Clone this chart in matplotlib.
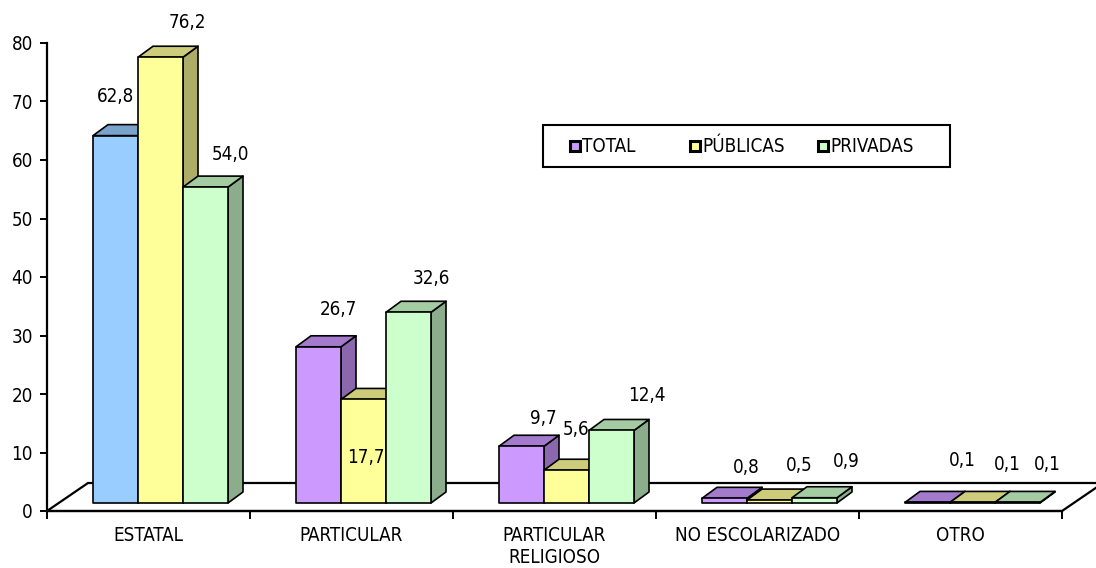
"""Faux-3D clustered bar chart: tipo de establecimiento por dependencia."""

import matplotlib
matplotlib.use("Agg")
import matplotlib.pyplot as plt
from matplotlib.patches import Polygon, Rectangle
from matplotlib.colors import to_rgb
from matplotlib import font_manager

# --- data -----------------------------------------------------------------
categories = ["ESTATAL", "PARTICULAR", "PARTICULAR\nRELIGIOSO",
              "NO ESCOLARIZADO", "OTRO"]
series_names = ["TOTAL", "PÚBLICAS", "PRIVADAS"]
total = [62.8, 26.7, 9.7, 0.8, 0.1]
publicas = [76.2, 17.7, 5.6, 0.5, 0.1]
privadas = [54.0, 32.6, 12.4, 0.9, 0.1]
y_ticks = [0, 10, 20, 30, 40, 50, 60, 70, 80]

# --- style / layout -------------------------------------------------------
series_colors = ["#CC99FF", "#FFFF99", "#CCFFCC"]
estatal_total_color = "#99CCFF"   # Excel point override
TOP_SHADE, SIDE_SHADE = 0.80, 0.68

W, H, DPI = 1096, 568, 100
PX_CAT = 203.0      # pixels per category
PX_UNIT = 5.85      # pixels per value unit
XMAX = 5.2

# label offsets in pixels (dx, dy above bar front top), per series / category
label_offsets = [
    [(0, 39), (20, 37), (22, 28), (22, 31), (35, 42)],
    [(27, 35), (2, -58), (10, 41), (30, 35), (35, 38)],
    [(25, 33), (23, 34), (35, 35), (32, 36), (30, 38)],
]

# legend box and marker positions in pixels
legend_box = (543, 125, 950, 167)
legend_marker_x = [570, 690, 818]

# a narrow face if one is around, else plain Liberation Sans
condensed = [f.name for f in font_manager.fontManager.ttflist
             if f.stretch in ("condensed", "semi-condensed", "extra-condensed")
             or "Condensed" in f.name]
if "DejaVu Sans" in condensed:
    plt.rcParams["font.family"] = ["DejaVu Sans"]
    plt.rcParams["font.stretch"] = "condensed"
    FS = 13.5
else:
    plt.rcParams["font.family"] = ["Liberation Sans", "DejaVu Sans"]
    FS = 12.3


def px_x(p):
    return p / PX_CAT


def px_y(p):
    return p / PX_UNIT


def fx(p):
    return p / W


def fy(p):
    return 1 - p / H


def shade(color, f):
    r, g, b = to_rgb(color)
    return (r * f, g * f, b * f)


fig = plt.figure(figsize=(W / DPI, H / DPI), dpi=DPI)
ax = fig.add_axes([47 / W, (H - 511) / H, XMAX * PX_CAT / W, 468 / H])
ax.set_xlim(0, XMAX)
ax.set_ylim(0, 80)

# floor
floor_dx, floor_dy = px_x(41), px_y(28)
floor = Polygon([(0, 0), (5, 0), (5 + floor_dx, floor_dy), (floor_dx, floor_dy)],
                closed=True, facecolor="white", edgecolor="black", lw=1.6,
                clip_on=False, zorder=1)
ax.add_patch(floor)

# bars
bar_w = px_x(45)
base_dx, base_dy = px_x(12), px_y(8)
depth_dx, depth_dy = px_x(15), px_y(11)
values = [total, publicas, privadas]

for ci, cat in enumerate(categories):
    group_left = ci + 0.5 - 1.5 * bar_w + base_dx
    for si in range(3):
        v = values[si][ci]
        color = series_colors[si]
        if ci == 0 and si == 0:
            color = estatal_total_color
        x0 = group_left + si * bar_w
        x1 = x0 + bar_w
        y0 = base_dy
        y1 = base_dy + v
        kw = dict(closed=True, edgecolor="black", lw=1.2, clip_on=False,
                  joinstyle="round", zorder=2)
        side = Polygon([(x1, y0), (x1 + depth_dx, y0 + depth_dy),
                        (x1 + depth_dx, y1 + depth_dy), (x1, y1)],
                       facecolor=shade(color, SIDE_SHADE), **kw)
        top = Polygon([(x0, y1), (x1, y1), (x1 + depth_dx, y1 + depth_dy),
                       (x0 + depth_dx, y1 + depth_dy)],
                      facecolor=shade(color, TOP_SHADE), **kw)
        front = Polygon([(x0, y0), (x1, y0), (x1, y1), (x0, y1)],
                        facecolor=color, **kw)
        for p in (side, top, front):
            ax.add_patch(p)

        dx, dy = label_offsets[si][ci]
        ax.text((x0 + x1) / 2 + px_x(dx), y1 + px_y(dy),
                f"{v:.1f}".replace(".", ","), ha="center", va="center",
                fontsize=FS, clip_on=False, zorder=5)

# axes
for s in ("top", "right"):
    ax.spines[s].set_visible(False)
ax.spines["left"].set_linewidth(1.6)
ax.spines["bottom"].set_linewidth(1.6)
ax.spines["bottom"].set_bounds(0, 5)
ax.spines["bottom"].set_zorder(3)

ax.set_yticks(y_ticks)
ax.tick_params(axis="y", direction="out", length=5, width=1.4,
               labelsize=FS, pad=5)
ax.set_xticks(range(6))
ax.set_xticklabels([])
ax.tick_params(axis="x", which="major", direction="out", length=6, width=1.4)
ax.set_xticks([i + 0.5 for i in range(5)], minor=True)
ax.set_xticklabels(categories, minor=True, fontsize=FS, linespacing=1.2,
                   va="top")
ax.tick_params(axis="x", which="minor", length=0, pad=11)

# legend, drawn by hand to keep Excel's spacing
bx0, by0, bx1, by1 = legend_box
fig.add_artist(Rectangle((fx(bx0), fy(by1)), fx(bx1) - fx(bx0), fy(by0) - fy(by1),
                         transform=fig.transFigure, facecolor="white",
                         edgecolor="black", lw=1.5))
ymid = (by0 + by1) / 2
msz = 10
for name, color, mx in zip(series_names, series_colors, legend_marker_x):
    fig.add_artist(Rectangle((fx(mx), fy(ymid + msz / 2)), fx(msz), msz / H,
                             transform=fig.transFigure, facecolor=color,
                             edgecolor="black", lw=2.2))
    fig.text(fx(mx + msz + 2), fy(ymid), name, ha="left", va="center",
             fontsize=FS)

fig.savefig("out.png", dpi=DPI)
